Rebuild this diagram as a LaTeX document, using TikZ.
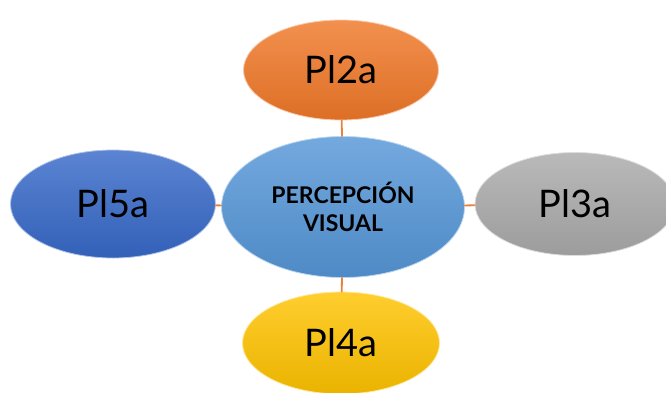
\documentclass[tikz,border=0pt]{standalone}
\usepackage{fontspec}
\setmainfont{Lato}
\usetikzlibrary{shapes.geometric}
\definecolor{linkor}{RGB}{235,130,60}
\begin{document}
\begin{tikzpicture}[x=1pt,y=-1pt,line join=round,line cap=round,
	bubble/.style={ellipse,inner sep=0pt,draw=white!60!#1,line width=0.8pt,
		shading=axis,shading angle=0,top color=#1!82!white,bottom color=#1!92!black,
		font=\fontsize{38}{38}\selectfont},
	link/.style={draw=linkor,line width=1.8pt}]
	\useasboundingbox (0,0) rectangle (666,392);
	\clip (0,0) rectangle (666,392);
	% colours of the bubbles
	\definecolor{cvis}{RGB}{85,150,215}
	\definecolor{corange}{RGB}{240,120,40}
	\definecolor{cblue}{RGB}{55,105,200}
	\definecolor{cgray}{RGB}{170,170,170}
	\definecolor{cyellow}{RGB}{255,195,0}
	% centre and the four around it
	\node[bubble=cvis,minimum width=243,minimum height=141,align=center,
		font=\fontsize{23}{28}\selectfont\bfseries] (vis) at (343,207) {PERCEPCIÓN\\VISUAL};
	\node[bubble=corange,minimum width=195,minimum height=100] (pl2) at (341,70) {Pl2a};
	\node[bubble=cgray,minimum width=200,minimum height=103] (pl3) at (575,204) {Pl3a};
	\node[bubble=cyellow,minimum width=197,minimum height=102] (pl4) at (341,343) {Pl4a};
	\node[bubble=cblue,minimum width=205,minimum height=108] (pl5) at (113,204) {Pl5a};
	\foreach \n in {pl2,pl3,pl4,pl5}{
		\draw[link] (vis) -- (\n);}
\end{tikzpicture}
\end{document}
